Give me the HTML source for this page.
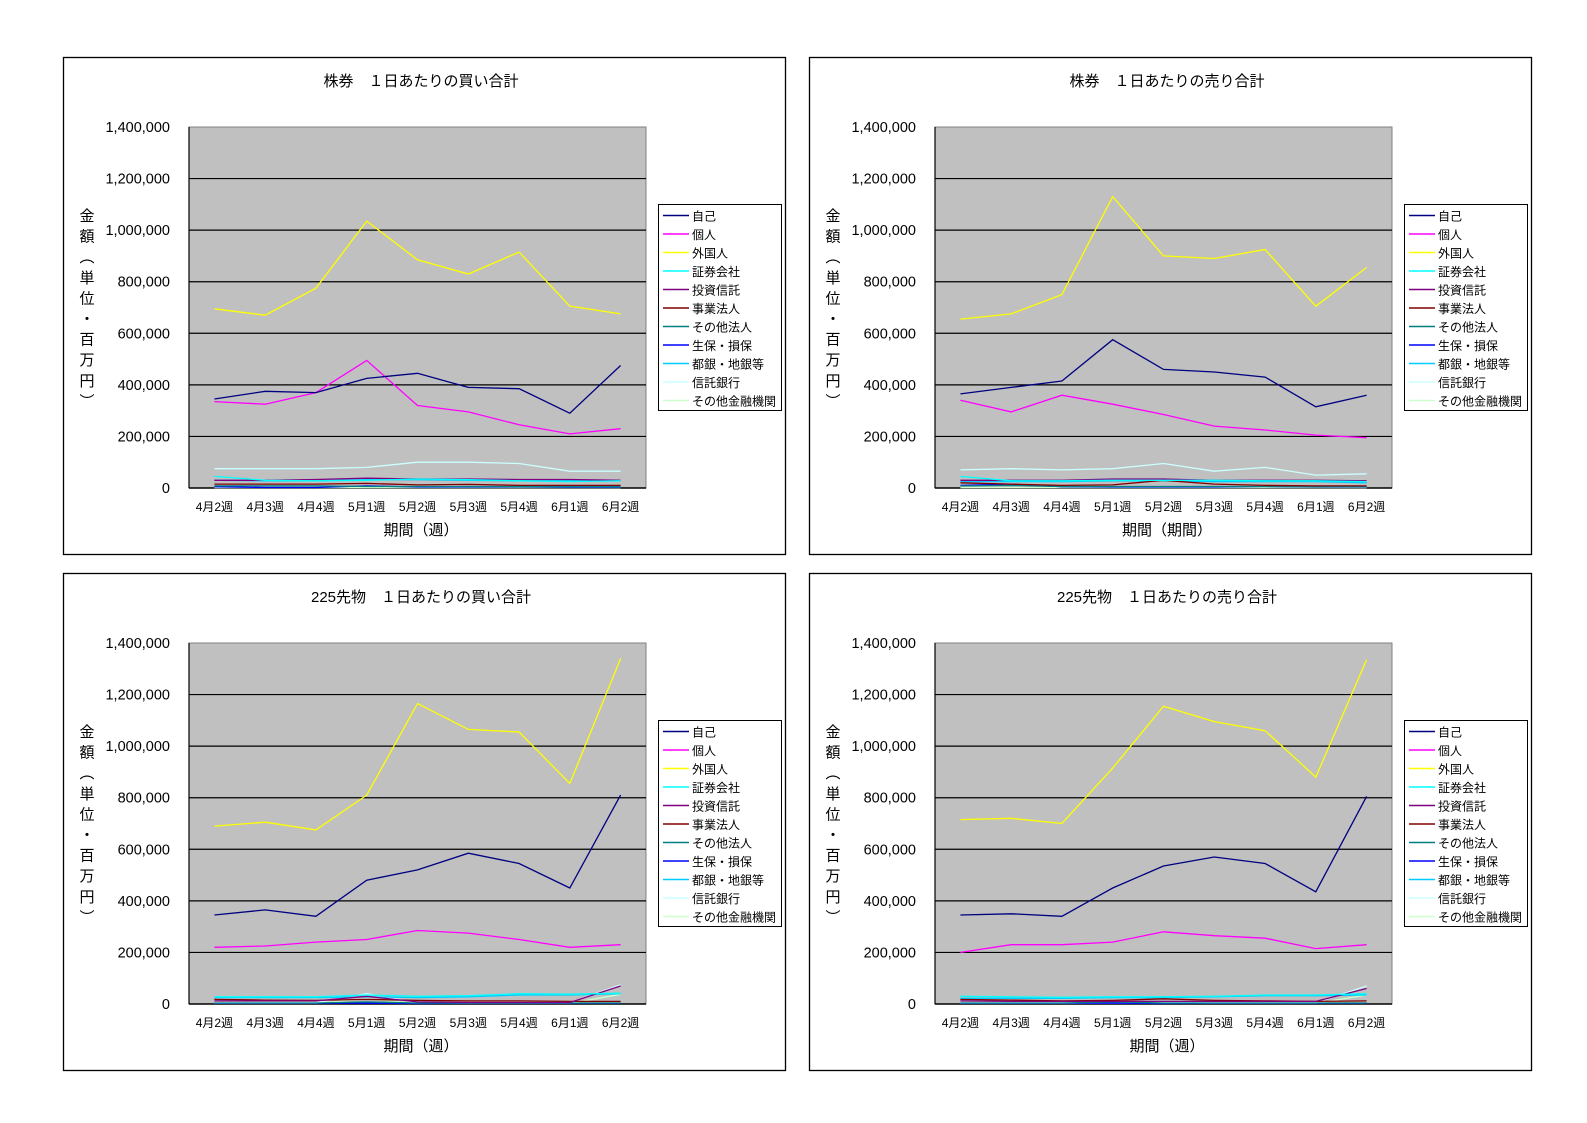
<!DOCTYPE html>
<html><head><meta charset="utf-8"><style>
html,body{margin:0;padding:0;background:#fff;}
svg{display:block;}
text{font-family:"Liberation Sans","Noto Sans CJK JP",sans-serif;fill:#000;}
</style></head><body>
<svg id="s" width="1587" height="1123" viewBox="0 0 1587 1123" xmlns="http://www.w3.org/2000/svg"></svg>
<script>
const S=document.getElementById('s');
const cats=['4月2週','4月3週','4月4週','5月1週','5月2週','5月3週','5月4週','6月1週','6月2週'];
const names=['自己','個人','外国人','証券会社','投資信託','事業法人','その他法人','生保・損保','都銀・地銀等','信託銀行','その他金融機関'];
const cols=['#000080','#FF00FF','#FFFF00','#00FFFF','#800080','#800000','#008080','#0000FF','#00CCFF','#CCFFFF','#CCFFCC'];
const small1=[[45,30,28,30,35,32,28,25,28],[30,30,33,38,35,35,33,33,30],[15,15,15,18,12,14,10,10,10],[8,8,8,6,6,6,5,5,5],[5,2,2,8,4,4,4,3,3],[30,28,28,32,32,30,28,28,28],[3,3,3,3,3,3,3,3,3]];
const small2=[[45,28,28,30,30,30,28,28,25],[30,30,30,35,35,30,30,30,28],[20,15,10,12,30,15,10,8,8],[8,10,6,6,6,6,6,5,5],[10,15,5,4,4,4,6,4,4],[25,25,25,28,28,25,25,25,20],[3,3,3,3,3,3,3,3,3]];
const small3=[[28,28,28,35,30,32,40,38,42],[12,12,12,30,8,6,6,6,70],[18,15,14,18,14,12,12,10,10],[4,4,4,8,4,4,4,4,4],[3,3,3,3,2,3,3,3,3],[25,25,25,28,25,28,35,35,40],[5,5,5,40,5,5,5,5,75]];
const small4=[[30,28,26,28,28,30,35,35,40],[12,10,10,10,10,10,10,10,60],[18,15,12,14,20,14,12,10,12],[4,4,4,8,4,4,4,4,4],[3,3,3,3,2,3,3,3,3],[22,22,22,25,25,28,32,32,35],[5,5,5,5,5,5,5,5,70]];
function mk(big,sm){ // big: navy, magenta, yellow ; sm: cyan,purple,darkred,teal,blue,dcyan,light
 return [big[0],big[1],big[2],sm[0],sm[1],sm[2],sm[3],sm[4],sm[5],sm[6],sm[6].map(v=>v*0.5)];}
const charts=[
 {dx:0,dy:0,title:'株券　１日あたりの買い合計',xt:'期間（週）',
  d:mk([[345,375,370,425,445,390,385,290,475],[335,325,370,495,320,295,245,210,230],[695,670,775,1035,885,830,915,705,675]],small1),tl:[75,75,75,80,100,100,95,65,65]},
 {dx:746,dy:0,title:'株券　１日あたりの売り合計',xt:'期間（期間）',
  d:mk([[365,390,415,575,460,450,430,315,360],[340,295,360,325,285,240,225,205,195],[655,675,750,1130,900,890,925,705,855]],small2),tl:[70,75,70,75,95,65,80,50,55]},
 {dx:0,dy:516,title:'225先物　１日あたりの買い合計',xt:'期間（週）',
  d:mk([[345,365,340,480,520,585,545,450,810],[220,225,240,250,285,275,250,220,230],[690,705,675,810,1165,1065,1055,855,1340]],small3),tl:null},
 {dx:746,dy:516,title:'225先物　１日あたりの売り合計',xt:'期間（週）',
  d:mk([[345,350,340,450,535,570,545,435,805],[200,230,230,240,280,265,255,215,230],[715,720,700,915,1155,1095,1060,880,1335]],small4),tl:null}
];
let h='';
const L=189,R=646,T=127,B=488,W=R-L,H=B-T;
charts.forEach(c=>{
 const ox=c.dx,oy=c.dy;
 h+=`<rect x="${63.5+ox}" y="${57.5+oy}" width="${722}" height="${497}" fill="#fff" stroke="#000" stroke-width="1.3"/>`;
 h+=`<text x="${421+ox}" y="${86+oy}" font-size="15" text-anchor="middle">${c.title}</text>`;
 h+=`<rect x="${L+ox}" y="${T+oy}" width="${W}" height="${H}" fill="#C0C0C0" stroke="#808080" stroke-width="1"/>`;
 for(let i=0;i<=7;i++){const y=B-i*H/7+oy;
  if(i>0&&i<7)h+=`<line x1="${L+ox}" x2="${R+ox}" y1="${y}" y2="${y}" stroke="#000" stroke-width="1.2"/>`;
  h+=`<text x="${170+ox}" y="${y+5}" font-size="14.5" text-anchor="end">${(i*200000).toLocaleString('en-US')}</text>`;}
 h+=`<line x1="${L+ox}" x2="${L+ox}" y1="${T+oy}" y2="${B+oy}" stroke="#000" stroke-width="1.2"/>`;
 h+=`<line x1="${L+ox}" x2="${R+ox}" y1="${B+oy}" y2="${B+oy}" stroke="#000" stroke-width="1.5"/>`;
 const st=W/9;
 cats.forEach((t,i)=>{h+=`<text x="${L+st*(i+.5)+ox}" y="${511+oy}" font-size="12" text-anchor="middle">${t}</text>`;});
 h+=`<text x="${421+ox}" y="${535+oy}" font-size="15" text-anchor="middle">${c.xt}</text>`;
 const yl='金額︵単位・百万円︶';
 [...'金額（単位・百万円）'].forEach((ch,i)=>{
  let g=ch==='（'?'︵':ch==='）'?'︶':ch;
  h+=`<text x="${87+ox}" y="${221+i*20.6+oy}" font-size="15" text-anchor="middle">${g}</text>`;});
 const data=c.d.slice(); if(c.tl)data[9]=c.tl;
 const order=[10,9,8,7,6,5,4,3,1,0,2];
 order.forEach(k=>{const pts=data[k].map((v,i)=>`${(L+st*(i+.5)+ox).toFixed(1)},${(B-v*1000/1400000*H+oy).toFixed(1)}`).join(' ');
  h+=`<polyline points="${pts}" fill="none" stroke="${cols[k]}" stroke-width="1.3"/>`;});
 h+=`<rect x="${658.5+ox}" y="${204.5+oy}" width="123" height="206" fill="#fff" stroke="#000" stroke-width="1"/>`;
 names.forEach((n,i)=>{const y=215.5+i*18.5+oy;
  h+=`<line x1="${663+ox}" x2="${689+ox}" y1="${y}" y2="${y}" stroke="${cols[i]}" stroke-width="1.5"/>`;
  h+=`<text x="${692+ox}" y="${y+5}" font-size="12">${n}</text>`;});
});
S.innerHTML=h;
</script>
</body></html>
